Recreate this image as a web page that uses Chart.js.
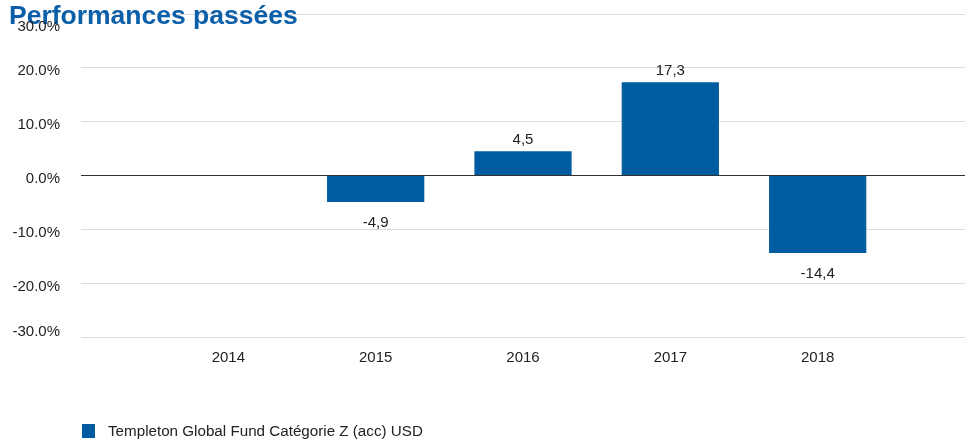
<!DOCTYPE html>
<html>
<head>
<meta charset="utf-8">
<script src="https://cdn.jsdelivr.net/npm/chart.js@4"></script>
<style>
  html, body { margin: 0; padding: 0; background: #fff; }
  #wrap { position: relative; width: 965px; height: 440px; }
  #chart { position: absolute; left: 0; top: 0; }
  #legend { position: absolute; left: 82px; top: 422px; font: 15.2px "Liberation Sans", Arial, sans-serif; color: #222; display: flex; align-items: center; }
  #legend span.box { display: inline-block; width: 13px; height: 14px; background: #005ca1; margin-right: 13px; }
</style>
</head>
<body>
<div id="wrap">
  <canvas id="chart" width="965" height="440"></canvas>
  <div id="legend"><span class="box"></span><span>Templeton Global Fund Catégorie Z (acc) USD</span></div>
</div>
<script>
// 데이터
const years = ['', '2014', '2015', '2016', '2017', '2018', ''];
const fundValues = [null, null, -4.9, 4.5, 17.3, -14.4, null];
const seriesName = 'Templeton Global Fund Catégorie Z (acc) USD';
const chartTitle = 'Performances passées';

const FONT = '"Liberation Sans", Arial, sans-serif';

// 제목: 눈금선 위, y축 라벨 아래에 그림
const titleText = {
  id: 'titleText',
  beforeDatasetsDraw(chart) {
    const ctx = chart.ctx;
    ctx.save();
    ctx.font = 'bold 26.5px ' + FONT;
    ctx.fillStyle = '#0b5ea8';
    ctx.textAlign = 'left';
    ctx.textBaseline = 'alphabetic';
    ctx.fillText(chartTitle, 9, 24);
    ctx.restore();
  }
};

// 막대 위/아래 값 표시
const valueLabels = {
  id: 'valueLabels',
  afterDatasetsDraw(chart) {
    const ctx = chart.ctx;
    const meta = chart.getDatasetMeta(0);
    ctx.save();
    ctx.font = '15px ' + FONT;
    ctx.fillStyle = '#222';
    ctx.textAlign = 'center';
    ctx.textBaseline = 'middle';
    meta.data.forEach((bar, i) => {
      const v = fundValues[i];
      if (v === null) return;
      const y = v >= 0 ? bar.y - 11.5 : bar.y + 20.5;
      ctx.fillText(v.toFixed(1).replace('.', ','), bar.x, y);
    });
    ctx.restore();
  }
};

// y축 라벨 직접 그리기 (맨 위/아래 라벨은 영역 안쪽으로 밀어줌)
const yLabels = {
  id: 'yLabels',
  afterDraw(chart) {
    const ctx = chart.ctx;
    const scale = chart.scales.y;
    const area = chart.chartArea;
    ctx.save();
    ctx.font = '15px ' + FONT;
    ctx.fillStyle = '#222';
    ctx.textAlign = 'right';
    ctx.textBaseline = 'middle';
    scale.ticks.forEach(t => {
      let y = scale.getPixelForValue(t.value) + 3.5;
      y = Math.min(Math.max(y, area.top + 12.5), area.bottom - 5.5);
      ctx.fillText(t.value.toFixed(1) + '%', 60, y);
    });
    ctx.restore();
  }
};

new Chart(document.getElementById('chart'), {
  type: 'bar',
  data: {
    labels: years,
    datasets: [{
      label: seriesName,
      data: fundValues,
      backgroundColor: '#005ca1',
      barPercentage: 0.66,
      categoryPercentage: 1
    }]
  },
  options: {
    responsive: false,
    animation: false,
    layout: { autoPadding: false, padding: { top: 14, bottom: 73, right: 0, left: 0 } },
    plugins: {
      legend: { display: false },
      tooltip: { enabled: false }
    },
    scales: {
      x: {
        offset: false,
        // 눈금선은 숨기고 라벨 간격만 tickLength로 확보
        grid: { display: true, color: 'transparent', tickColor: 'transparent', drawTicks: true, tickLength: 12 },
        border: { display: false },
        ticks: { color: '#222', font: { family: FONT, size: 15 }, padding: 0, maxRotation: 0, autoSkip: false }
      },
      y: {
        min: -30,
        max: 30,
        afterFit(scale) { scale.width = 81; },
        border: { display: false },
        grid: {
          drawTicks: false,
          lineWidth: 1,
          color: ctx => ctx.tick && ctx.tick.value === 0 ? '#333' : '#dcdcdc'
        },
        ticks: {
          stepSize: 10,
          display: false
        }
      }
    }
  },
  plugins: [titleText, valueLabels, yLabels]
});
</script>
</body>
</html>
